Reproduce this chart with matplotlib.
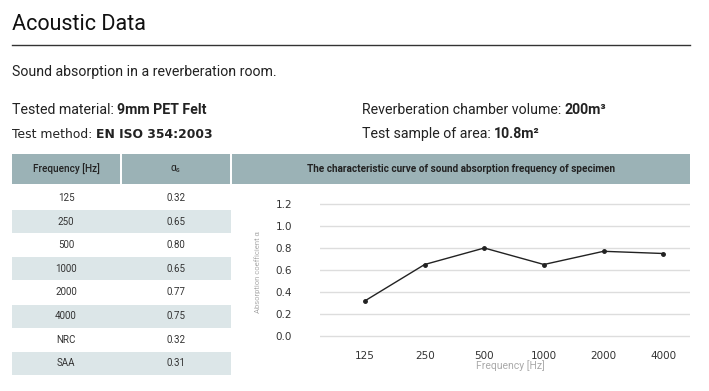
import matplotlib.pyplot as plt
from matplotlib.patches import Rectangle

# table / chart data
freq_labels = ["125", "250", "500", "1000", "2000", "4000"]
alpha_values = [0.32, 0.65, 0.80, 0.65, 0.77, 0.75]
extra_labels = ["NRC", "SAA"]
extra_values = [0.32, 0.31]
y_ticks = [0.0, 0.2, 0.4, 0.6, 0.8, 1.0, 1.2]

W, H = 709, 391
header_color = "#9bb2b6"
shade_color = "#dce6e8"
text_color = "#222222"

plt.rcParams["font.family"] = ["Roboto", "DejaVu Sans"]

fig = plt.figure(figsize=(W / 100, H / 100), dpi=100)
fig.patch.set_facecolor("white")


def fx(x):
    return x / W


def fy(y):
    return 1 - y / H


def rect(x0, y0, x1, y1, color):
    fig.patches.append(Rectangle((fx(x0), fy(y1)), fx(x1) - fx(x0), fy(y0) - fy(y1),
                                 transform=fig.transFigure, facecolor=color,
                                 edgecolor="none", zorder=0))


def two_part(x, y, normal, bold, size, family=None):
    fam = family or plt.rcParams["font.family"]
    t = fig.text(fx(x), fy(y), normal, fontsize=size, color=text_color, va="center",
                 family=fam)
    fig.canvas.draw()
    bb = t.get_window_extent()
    fig.text(bb.x1 / W, fy(y), bold, fontsize=size, color=text_color,
             va="center", fontweight="bold", family=fam)


# heading
fig.text(fx(12), fy(25), "Acoustic Data", fontsize=15.5, color="#111111", va="center")
fig.add_artist(plt.Line2D([fx(12), fx(690)], [fy(45), fy(45)], color="#333333",
                          lw=1.0, transform=fig.transFigure))
fig.text(fx(12), fy(72), "Sound absorption in a reverberation room.", fontsize=10.2,
         color=text_color, va="center")

# info lines
two_part(12, 110, "Tested material: ", "9mm PET Felt", 10.2)
two_part(12, 134, "Test method: ", "EN ISO 354:2003", 8.9, ["DejaVu Sans"])
two_part(362, 110, "Reverberation chamber volume: ", "200m³", 10.2)
two_part(362, 134, "Test sample of area: ", "10.8m²", 10.2)

# table header
rect(12, 154, 120, 184, header_color)
rect(122, 154, 230, 184, header_color)
rect(232, 154, 690, 184, header_color)
fig.text(fx(66), fy(169), "Frequency [Hz]", fontsize=7.2, color=text_color,
         ha="center", va="center", fontweight="medium")
fig.text(fx(176), fy(169), r"α$_\mathregular{s}$", fontsize=7.5, color=text_color,
         ha="center", va="center")
fig.text(fx(461), fy(169), "The characteristic curve of sound absorption frequency of specimen",
         fontsize=7.2, color=text_color, ha="center", va="center", fontweight="bold")

# table rows
row_labels = freq_labels + extra_labels
row_values = alpha_values + extra_values
row_h = 23.6
for i, (lab, val) in enumerate(zip(row_labels, row_values)):
    yc = 198 + i * row_h
    if i % 2 == 1:
        rect(12, yc - 11.5, 231, yc + 11.5, shade_color)
    fig.text(fx(66), fy(yc), lab, fontsize=7, color="#333333", ha="center", va="center")
    fig.text(fx(176), fy(yc), f"{val:.2f}", fontsize=7, color="#333333",
             ha="center", va="center")

# chart
ax = fig.add_axes([fx(320), fy(340), fx(690) - fx(320), fy(200) - fy(340)])
x = list(range(len(freq_labels)))
ax.plot(x, alpha_values, color="#222222", lw=1.0, marker="o", markersize=2.5, zorder=3)
ax.set_xlim(-0.755, 5.45)
pad = 1.2 * 4 / 132
ax.set_ylim(-pad, 1.2 + pad)
ax.set_yticks(y_ticks)
ax.set_yticklabels([f"{v:.1f}" for v in y_ticks], family="DejaVu Sans", fontsize=7.5,
                   color="#333333")
ax.set_xticks(x)
ax.set_xticklabels(freq_labels, family="DejaVu Sans", fontsize=7.5, color="#333333")
ax.tick_params(length=0, axis="y", pad=20)
ax.tick_params(length=0, axis="x", pad=8)
ax.grid(axis="y", color="#dddddd", lw=1.0)
ax.set_axisbelow(True)
for s in ax.spines.values():
    s.set_visible(False)
ax.set_facecolor("none")
fig.text(fx(258), fy(272), "Absorption coefficient α", rotation=90, fontsize=5.5,
         color="#aaaaaa", ha="center", va="center")
fig.text(fx(510), fy(366), "Frequency [Hz]", fontsize=7.5, color="#aaaaaa",
         ha="center", va="center")

fig.savefig("out.png", dpi=100, facecolor="white")
